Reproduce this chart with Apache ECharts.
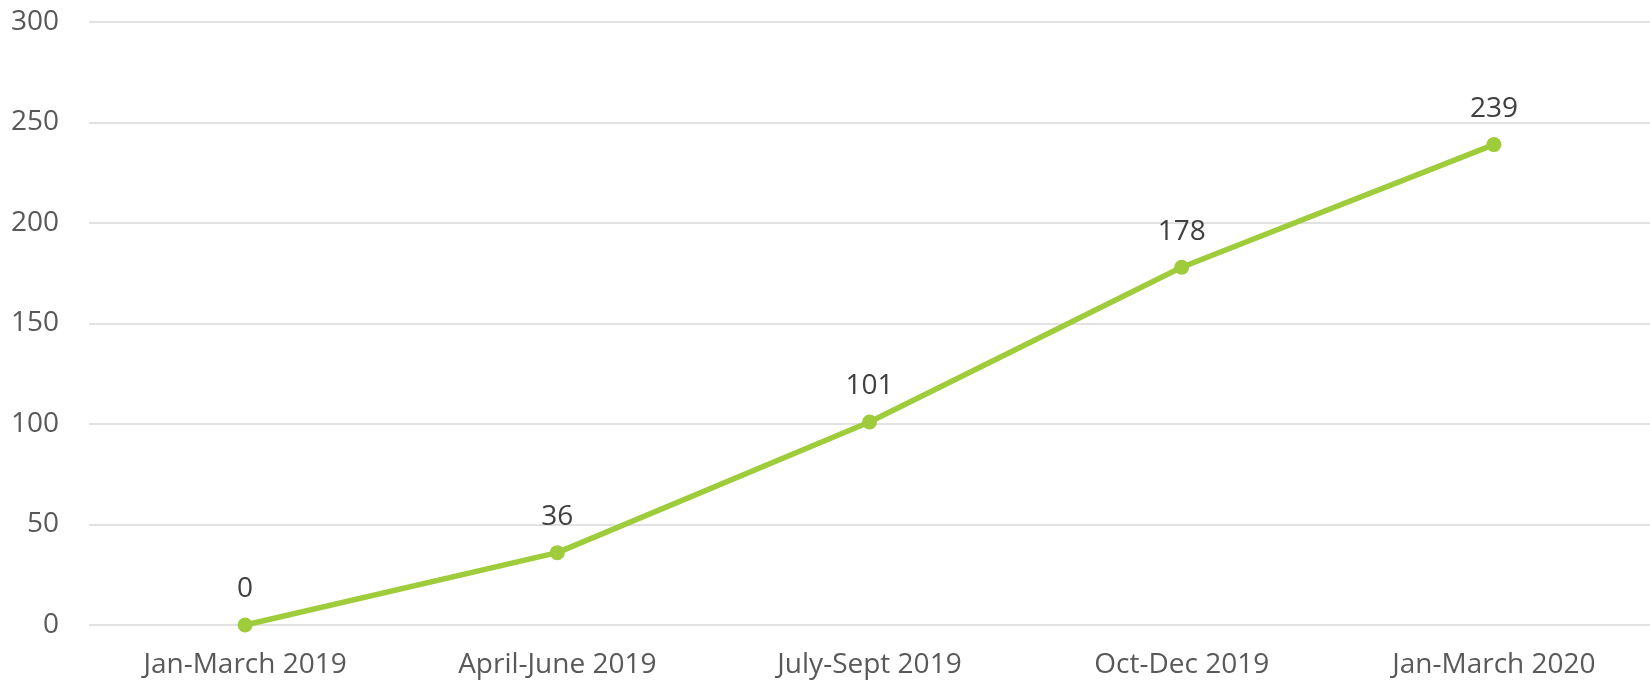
<!DOCTYPE html>
<html>
<head>
<meta charset="utf-8">
<script src="https://cdn.jsdelivr.net/npm/echarts@6/dist/echarts.min.js"></script>
<style>
  html, body { margin: 0; padding: 0; background: #fff; }
  #main { width: 1650px; height: 682px; }
</style>
</head>
<body>
<div id="main"></div>
<script>
// data
let quarters = ['Jan-March 2019', 'April-June 2019', 'July-Sept 2019', 'Oct-Dec 2019', 'Jan-March 2020'];
let counts = [0, 36, 101, 178, 239];
let yTicks = [0, 50, 100, 150, 200, 250, 300];

(function() {
    var chart = echarts.init(document.getElementById('main'));
    var font = '"Open Sans", sans-serif';
    var option = {
        animation: false,
        grid: {left: 89, right: 0, top: 22, bottom: 57},
        xAxis: {
            type: 'category',
            data: quarters,
            boundaryGap: true,
            axisLine: {show: false},
            axisTick: {show: false},
            axisLabel: {color: '#595959', fontSize: 28, fontFamily: font, margin: 26}
        },
        yAxis: {
            type: 'value',
            min: yTicks[0],
            max: yTicks[yTicks.length - 1],
            interval: 50,
            axisLine: {show: false},
            axisTick: {show: false},
            axisLabel: {color: '#595959', fontSize: 28, fontFamily: font, margin: 30},
            splitLine: {lineStyle: {color: '#d9d9d9', width: 1.5}}
        },
        series: [{
            type: 'line',
            data: counts,
            symbol: 'circle',
            symbolSize: 15,
            itemStyle: {color: '#9fcc3b'},
            lineStyle: {color: '#9fcc3b', width: 5.5},
            label: {
                show: true,
                position: 'top',
                distance: 14,
                color: '#404040',
                fontSize: 28,
                fontFamily: font
            }
        }]
    };
    chart.setOption(option);
})();
</script>
</body>
</html>
